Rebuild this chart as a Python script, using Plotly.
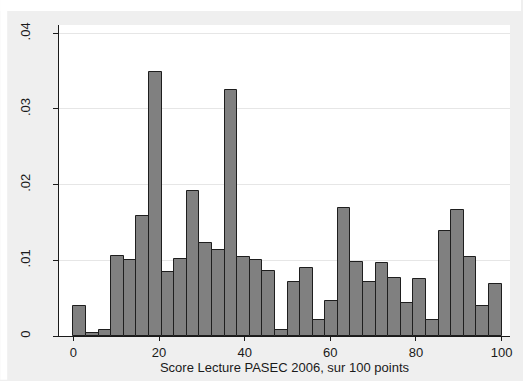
import plotly.graph_objects as go

# Histogram: 34 bins over [0, 100], density values
bin_start = 0.0
bin_end = 100.0
densities = [0.0039, 0.00035, 0.0008, 0.0106, 0.0100, 0.0159, 0.0349, 0.0084,
             0.0102, 0.0192, 0.0123, 0.0114, 0.0325, 0.0104, 0.0100, 0.0086,
             0.00075, 0.0072, 0.0090, 0.0021, 0.0046, 0.0169, 0.0098, 0.0071,
             0.0097, 0.0077, 0.0043, 0.0075, 0.0021, 0.0139, 0.0167, 0.0104,
             0.0039, 0.0069]
x_ticks = [0, 20, 40, 60, 80, 100]
y_ticks = [0, 0.01, 0.02, 0.03, 0.04]
y_tick_labels = ["0", ".01", ".02", ".03", ".04"]
x_title = "Score Lecture PASEC 2006, sur 100 points"

n = len(densities)
w = (bin_end - bin_start) / n
centers = [bin_start + (i + 0.5) * w for i in range(n)]

W, H = 523, 381
ml, mr, mt, mb = 59, 11, 25, 44
pw = W - ml - mr
ph = H - mt - mb

def px2x(px):
    return (px - ml) / pw

def py2y(py):
    return (H - mb - py) / ph

fig = go.Figure()
fig.add_trace(go.Bar(
    x=centers, y=densities, width=[w] * n,
    marker=dict(color="#808080", line=dict(color="#1e1e1e", width=1)),
    hoverinfo="x+y", showlegend=False,
))

font = dict(family="Liberation Sans, Arial, sans-serif", size=13, color="#1a1a1a")

fig.update_layout(
    width=W, height=H,
    margin=dict(l=ml, r=mr, t=mt, b=mb, pad=0),
    paper_bgcolor="#efefef",
    plot_bgcolor="#ffffff",
    bargap=0,
    font=font,
    shapes=[
        dict(type="rect", xref="paper", yref="paper", layer="below",
             x0=px2x(0), x1=px2x(7), y0=py2y(H), y1=py2y(0),
             fillcolor="#ffffff", line=dict(width=0)),
        dict(type="rect", xref="paper", yref="paper", layer="below",
             x0=px2x(0), x1=px2x(W), y0=py2y(11), y1=py2y(0),
             fillcolor="#ffffff", line=dict(width=0)),
    ],
    xaxis=dict(
        range=[-3.35, 101.95], tickvals=x_ticks, ticks="outside", ticklen=4,
        tickcolor="#1a1a1a", showline=True, linecolor="#1a1a1a", linewidth=1,
        showgrid=False, zeroline=False, tickfont=dict(size=13),
        title=dict(text=x_title, font=dict(size=13), standoff=1),
    ),
    yaxis=dict(
        range=[0, 0.0411], tickvals=y_ticks, ticktext=y_tick_labels,
        ticks="outside", ticklen=5, tickcolor="#1a1a1a", tickangle=-90,
        showline=True, linecolor="#1a1a1a", linewidth=1,
        showgrid=True, gridcolor="#e6e6e6", gridwidth=1, zeroline=False,
        tickfont=dict(size=13), ticklabelstandoff=18,
    ),
)

fig.write_html("out.html")
